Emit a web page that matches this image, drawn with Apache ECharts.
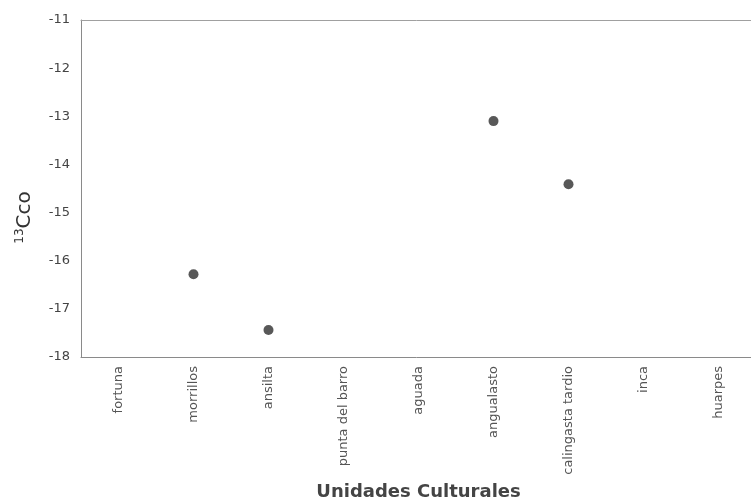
<!DOCTYPE html>
<html>
<head>
<meta charset="utf-8">
<script src="https://cdn.jsdelivr.net/npm/echarts@6/dist/echarts.min.js"></script>
<style>
  html, body { margin: 0; padding: 0; background: #fff; }
  #chart { width: 751px; height: 504px; }
</style>
</head>
<body>
<div id="chart"></div>
<script>
// Cultural units along the horizontal axis
const categories = ['fortuna', 'morrillos', 'ansilta', 'punta del barro', 'aguada',
  'angualasto', 'calingasta tardio', 'inca', 'huarpes'];
// δ13C (carbonate) values; null where a unit has no measurement
const values = [null, -16.28, -17.44, null, null, -13.1, -14.41, null, null];
const yTicks = { min: -18, max: -11, interval: 1 };

const points = categories
  .map((c, i) => (values[i] === null ? null : [c, values[i]]))
  .filter(p => p !== null);

const chart = echarts.init(document.getElementById('chart'));
const labelFont = 'DejaVu Sans, Verdana, sans-serif';
chart.setOption({
  backgroundColor: '#ffffff',
  animation: false,
  grid: { left: 81, top: 20, width: 675, height: 337, outerBoundsMode: 'none', containLabel: false },
  xAxis: [{
    type: 'category',
    data: categories,
    boundaryGap: true,
    position: 'bottom',
    axisLine: { lineStyle: { color: '#8a8a8a', width: 1 } },
    axisTick: { show: false },
    axisLabel: {
      rotate: 90, interval: 0, margin: 9,
      color: '#555', fontSize: 13, fontFamily: labelFont
    },
    name: 'Unidades Culturales',
    nameLocation: 'middle',
    nameGap: 126,
    nameTextStyle: { color: '#444', fontSize: 18, fontWeight: 'bold', fontFamily: labelFont }
  }, {
    type: 'category',
    data: categories,
    position: 'top',
    axisLine: { lineStyle: { color: '#a0a0a0', width: 1 } },
    axisTick: { show: false },
    axisLabel: { show: false }
  }],
  yAxis: {
    type: 'value',
    min: yTicks.min, max: yTicks.max, interval: yTicks.interval,
    axisLine: { show: true, lineStyle: { color: '#8a8a8a', width: 1 } },
    axisTick: { show: false },
    splitLine: { show: false },
    axisLabel: { color: '#444', fontSize: 13, fontFamily: labelFont, margin: 11 },
    name: '{sup|13}{base|Cco}',
    nameLocation: 'middle',
    nameRotate: 90,
    nameGap: 46,
    nameTextStyle: {
      padding: [0, 58, 0, 0],
      rich: {
        sup: { fontSize: 12, color: '#333', fontFamily: labelFont, verticalAlign: 'top', padding: [0, 0, 9, 0] },
        base: { fontSize: 20, color: '#333', fontFamily: labelFont }
      }
    }
  },
  series: [{
    type: 'scatter',
    data: points,
    symbol: 'circle',
    symbolSize: 10,
    itemStyle: { color: '#2e2e2e' }
  }]
});
</script>
</body>
</html>
